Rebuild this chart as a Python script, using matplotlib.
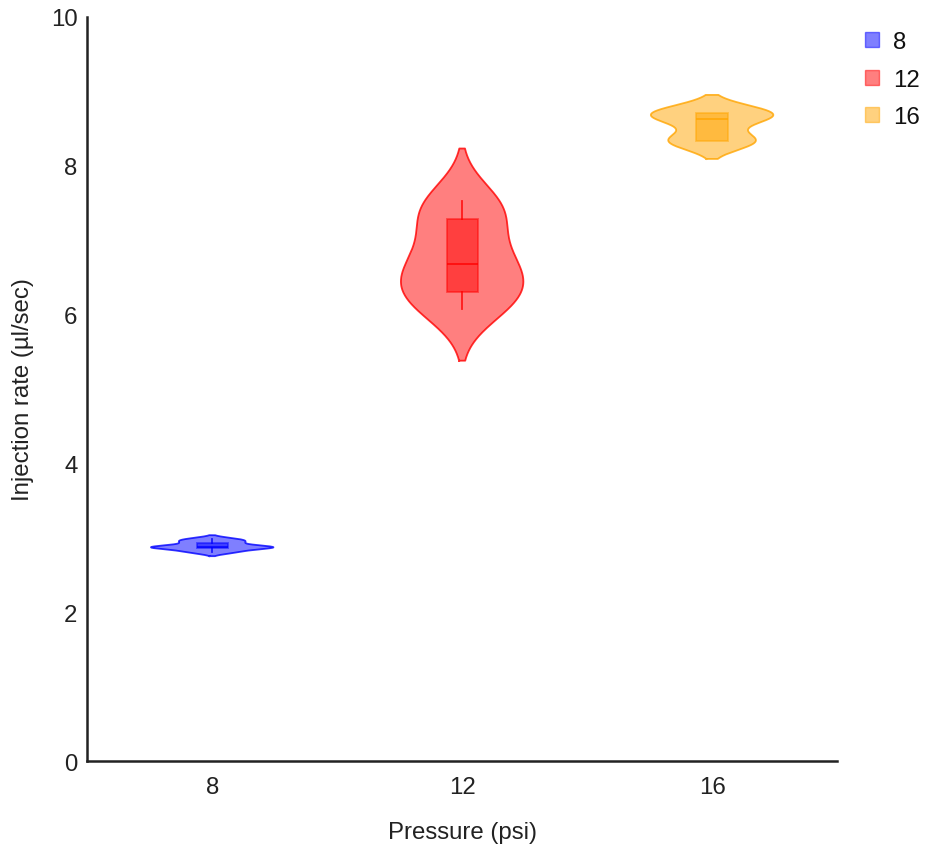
import numpy as np
import matplotlib
matplotlib.use("Agg")
import matplotlib.pyplot as plt
from matplotlib.patches import Patch

plt.rcParams['font.family'] = ['Liberation Sans', 'DejaVu Sans']

# pressure groups and injection rate samples (ul/sec)
groups = ['8', '12', '16']
rate_8 = [2.81, 2.86, 2.875, 2.885, 2.94, 2.98]
rate_12 = [6.08, 6.2, 6.30, 6.5, 6.68, 6.8, 7.28, 7.4, 7.53]
rate_16 = [8.33, 8.33, 8.63, 8.71, 8.71]
samples = [rate_8, rate_12, rate_16]
bandwidths = [0.028, 0.35, 0.12]  # kde bandwidth per group
colors = ['#0000ff', '#ff0000', '#ffa500']


def kde(data, bw):
    data = np.asarray(data)
    y = np.linspace(data.min() - 2 * bw, data.max() + 2 * bw, 300)
    dens = np.exp(-0.5 * ((y[:, None] - data[None, :]) / bw) ** 2).sum(axis=1)
    return y, dens / dens.max()


fig = plt.figure(figsize=(9.28, 8.45), dpi=100)
ax = fig.add_axes([0.094, 0.098, 0.808, 0.881])

half_w = 0.245
for i, (d, bw, c) in enumerate(zip(samples, bandwidths, colors)):
    y, dens = kde(d, bw)
    ax.fill_betweenx(y, i - dens * half_w, i + dens * half_w,
                     facecolor=c, alpha=0.5, edgecolor='none', zorder=2)
    ax.plot(np.r_[i - dens * half_w, (i + dens * half_w)[::-1], i - dens[0] * half_w],
            np.r_[y, y[::-1], y[0]], color=c, lw=1.3, alpha=0.8, zorder=3)
    ax.boxplot([d], positions=[i], widths=0.125, whis=(0, 100), showcaps=False,
               showfliers=False, patch_artist=True, zorder=4,
               boxprops=dict(facecolor=c, alpha=0.5, edgecolor=c, linewidth=1.3),
               medianprops=dict(color=c, linewidth=1.3, alpha=0.8),
               whiskerprops=dict(color=c, linewidth=1.3, alpha=0.8))

ax.set_xlim(-0.5, 2.5)
ax.set_ylim(0, 10)
ax.set_xticks([0, 1, 2])
ax.set_xticklabels(groups)
ax.set_yticks([0, 2, 4, 6, 8, 10])
ax.tick_params(length=0, labelsize=17.3, colors='#222222')
ax.tick_params(axis='x', pad=11)
ax.tick_params(axis='y', pad=7)
for s in ['top', 'right']:
    ax.spines[s].set_visible(False)
for s in ['left', 'bottom']:
    ax.spines[s].set_color('#222222')
    ax.spines[s].set_linewidth(1.8)

ax.set_xlabel('Pressure (psi)', fontsize=17.3, labelpad=16, color='#222222')
ax.set_ylabel('Injection rate (µl/sec)', fontsize=17.3, labelpad=12, color='#222222')

handles = [Patch(facecolor=c, edgecolor=c, alpha=0.5, label=g) for g, c in zip(groups, colors)]
leg = fig.legend(handles=handles, loc='upper left', bbox_to_anchor=(865 / 928, 1 - 32 / 845),
                 frameon=False, fontsize=17.3, handlelength=0.6, handleheight=0.6,
                 handletextpad=0.55, labelspacing=0.65, borderpad=0, borderaxespad=0)
for t in leg.get_texts():
    t.set_color('#111111')

fig.savefig('out.png', dpi=100)
